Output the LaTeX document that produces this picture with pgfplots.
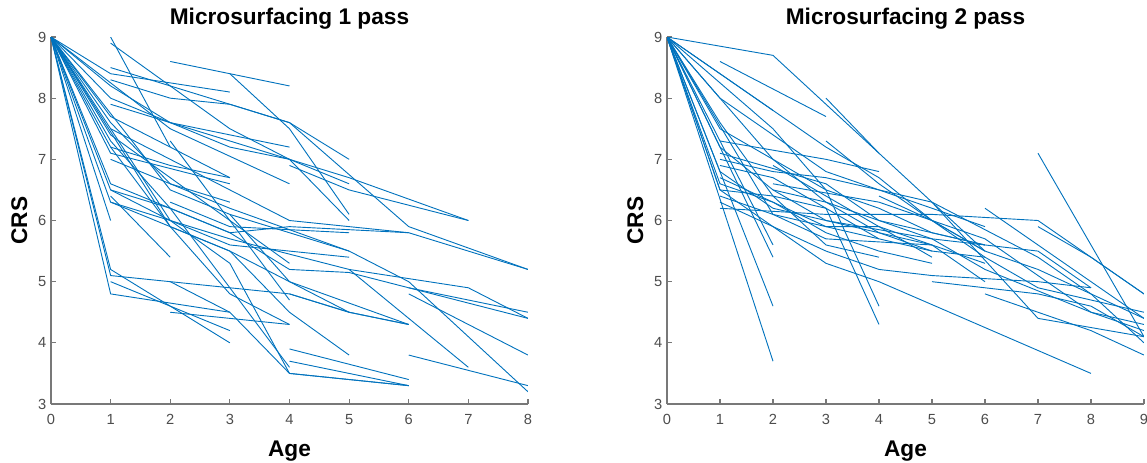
\documentclass[border=0pt]{standalone}
\usepackage{pgfplots}
\pgfplotsset{compat=1.18}
\usepackage{fontspec}
\setmainfont{Liberation Sans}
\definecolor{mblue}{rgb}{0,0.447,0.741}
\definecolor{axgray}{rgb}{0.47,0.47,0.47}
\definecolor{labgray}{rgb}{0.3,0.3,0.3}
\tikzset{ln/.style={mblue, line width=0.68pt, line join=round}}
\newcommand{\Ln}[1]{\addplot[ln] coordinates {#1};}
\pgfplotsset{
 mstyle/.style={
  scale only axis, width=357.75pt, height=275.25pt,
  ymin=3, ymax=9, ytick={3,...,9},
  axis x line*=bottom, axis y line*=left,
  axis line style={draw=axgray, line width=1.1pt},
  x axis line style={-}, y axis line style={-},
  tick align=inside, major tick length=3.5pt,
  every tick/.style={draw=axgray, line width=0.8pt},
  tick label style={font=\fontsize{11}{13}\selectfont, text=labgray},
  xticklabel style={yshift=-4pt},
  /pgf/number format/assume math mode=true,
  title style={at={(axis description cs:0.5,1.0136)}, anchor=base, font=\bfseries\fontsize{17}{20}\selectfont},
  xlabel style={at={(axis description cs:0.5,-0.1444)}, anchor=base, font=\bfseries\fontsize{17}{20}\selectfont},
  every axis y label/.style={at={(axis description cs:-0.0503,0.5)}, rotate=90, anchor=base, font=\bfseries\fontsize{17}{20}\selectfont},
  clip=true,
 }
}
\begin{document}
\begin{tikzpicture}
\begin{axis}[mstyle, at={(38.25pt,43.5pt)}, anchor=south west,
  xmin=0, xmax=8, xtick={0,...,8},
  title={Microsurfacing 1 pass}, xlabel={Age}, ylabel={CRS}]
\Ln{(0,9) (1,4.8) (3,4.5)}
\Ln{(0,9) (1,5.1) (2,5.0) (3,4.9) (4,4.8) (5,4.5)}
\Ln{(0,9) (1,5.2) (3,4.0)}
\Ln{(0,9) (1,6.0)}
\Ln{(0,9) (1,6.6) (3,5.8) (4,5.9) (6,5.8) (8,5.2)}
\Ln{(0,9) (1,6.3) (3,5.7) (5,5.2) (7,4.9) (8,4.4)}
\Ln{(0,9) (2,6.5) (3,6.1) (5,5.5)}
\Ln{(0,9) (1,7.1) (3,6.6)}
\Ln{(0,9) (1,7.7) (3,6.7)}
\Ln{(0,9) (2,6.0) (3,5.3) (4,3.5) (6,3.3)}
\Ln{(0,9) (1,8.0) (3,7.2) (4,7.0) (5,6.6)}
\Ln{(0,9) (1,8.4) (3,8.1)}
\Ln{(0,9) (2,7.5) (4,6.6)}
\Ln{(0,9) (1,7.3) (2,6.2) (4,3.6)}
\Ln{(0,9) (2,5.9) (3,5.5) (4,4.5) (5,3.8)}
\Ln{(1,9.0) (2,7.2)}
\Ln{(1,8.9) (3,7.5) (4,7.0) (5,6.0)}
\Ln{(1,8.5) (4,7.6) (6,5.9) (8,5.2)}
\Ln{(2,8.6) (3,8.4) (4,8.2)}
\Ln{(3,8.4) (4,7.5) (5,6.1)}
\Ln{(1,7.9) (4,7.0) (5,6.7) (7,6.0)}
\Ln{(1,7.5) (3,6.5) (4,6.0) (6,5.8)}
\Ln{(1,7.0) (3,6.2) (5,5.5) (6,5.0) (8,3.2)}
\Ln{(1,6.5) (2,6.2) (3,5.8) (4,5.2) (5,5.15) (8,4.4)}
\Ln{(1,6.3) (3,5.5) (4,5.0) (6,4.3)}
\Ln{(2,6.3) (3,5.9) (5,5.8)}
\Ln{(2,7.3) (4,4.7)}
\Ln{(4,4.8) (5,4.5) (6,4.3)}
\Ln{(4,3.9) (6,3.4)}
\Ln{(4,3.7) (6,3.3)}
\Ln{(6,4.9) (8,4.5)}
\Ln{(6,4.8) (8,3.8)}
\Ln{(6,3.8) (8,3.3)}
\Ln{(5,5.2) (7,3.6)}
\Ln{(4,6.9) (5,6.5) (7,6.0)}
\Ln{(3,6.1) (4,5.0) (5,4.5) (6,4.3)}
\Ln{(0,9) (1,7.6) (2,6.6) (3,6.3)}
\Ln{(0,9) (1,8.2) (2,7.6) (3,7.4) (4,7.2)}
\Ln{(0,9) (1,7.2) (2,5.9) (3,4.8) (4,4.3)}
\Ln{(2,4.5) (3,4.4) (4,4.3)}
\Ln{(1,6.4) (2,5.4)}
\Ln{(1,8.3) (2,8.0) (3,7.9) (4,7.6) (5,7.0)}
\Ln{(1,5.0) (3,4.2)}
\Ln{(2,5.0) (3,4.5) (4,3.5) (6,3.3)}
\Ln{(0,9) (1,6.5) (2,6.0) (3,5.6) (4,5.5) (5,5.4)}
\Ln{(1,7.2) (2,6.9) (3,6.7)}
\Ln{(0,9) (1,7.4) (2,6.7) (3,6.0) (4,5.3)}
\end{axis}
\begin{axis}[mstyle, at={(500.25pt,43.5pt)}, anchor=south west,
  xmin=0, xmax=9, xtick={0,...,9},
  title={Microsurfacing 2 pass}, xlabel={Age}, ylabel={CRS}]
\Ln{(0,9) (2,8.7) (5,6.3) (7,4.4) (9,4.1)}
\Ln{(1,8.6) (3,7.7)}
\Ln{(0,9) (2,7.8)}
\Ln{(3,8.0) (4,7.1)}
\Ln{(0,9) (2,3.7)}
\Ln{(0,9) (2,4.6)}
\Ln{(0,9) (2,5.4)}
\Ln{(0,9) (2,5.6)}
\Ln{(0,9) (1,6.5) (2,5.9) (3,5.3) (4,5.0) (8,3.5)}
\Ln{(1,7.3) (3,7.0) (4,6.8)}
\Ln{(1,7.1) (3,6.6)}
\Ln{(1,7.0) (2,6.8) (3,6.7) (5,6.3) (6,5.5)}
\Ln{(1,6.2) (3,6.1) (4,6.1) (5,6.1) (7,6.0) (9,4.8)}
\Ln{(0,9) (1,6.8) (2,6.2) (3,6.0) (4,5.8) (5,5.5) (6,5.4)}
\Ln{(0,9) (1,6.6) (2,6.3) (3,5.9) (4,5.9) (5,5.6) (6,5.3)}
\Ln{(0,9) (1,6.5) (2,6.4) (3,6.2) (4,4.3)}
\Ln{(0,9) (2,7.5) (3,6.5) (4,4.6)}
\Ln{(0,9) (2,7.0) (3,6.3) (4,5.8) (5,5.6)}
\Ln{(0,9) (3,7.2) (4,6.7) (5,6.0) (6,5.5)}
\Ln{(3,7.3) (4,6.6) (5,6.0) (6,5.4) (7,4.9) (9,4.5)}
\Ln{(4,5.2) (5,5.1) (7,5.0) (8,4.9)}
\Ln{(6,6.2) (7,5.6) (9,4.4)}
\Ln{(7,7.1) (9,4.1)}
\Ln{(7,5.9) (8,5.4) (9,4.8)}
\Ln{(5,6.3) (7,5.4) (8,4.8) (9,4.0)}
\Ln{(6,5.2) (8,4.5) (9,4.2)}
\Ln{(6,4.8) (8,4.2) (9,3.8)}
\Ln{(2,6.9) (5,5.4)}
\Ln{(1,6.7) (2,6.3) (3,5.8) (4,5.5) (5,5.3)}
\Ln{(0,9) (1,7.5) (2,7.0) (3,6.5) (4,6.2) (5,5.8) (6,5.6) (7,5.5) (8,4.9)}
\Ln{(1,6.4) (2,6.1) (3,5.7) (5,5.6) (6,5.0)}
\Ln{(5,5.0) (7,4.8) (8,4.6) (9,4.1)}
\Ln{(2,6.6) (4,6.3) (6,5.7) (8,4.5) (9,4.3)}
\Ln{(0,9) (1,7.2) (2,6.5) (3,6.0) (5,5.7) (6,5.2)}
\Ln{(4,6.4) (5,6.0) (6,5.5) (7,5.2) (9,4.4)}
\Ln{(0,9) (1,8.0) (2,7.4) (3,6.8) (4,6.5) (5,6.2) (6,5.9)}
\Ln{(3,6.6) (4,6.0) (6,5.6)}
\Ln{(1,6.3) (3,5.5) (4,5.2)}
\Ln{(0,9) (1,7.6) (2,6.4) (3,5.6) (4,5.4)}
\Ln{(0,9) (2,6.1) (3,5.9) (5,5.5)}
\Ln{(1,6.9) (2,6.7) (3,6.2) (4,5.7)}
\Ln{(2,6.5) (3,6.3) (4,6.0) (5,5.7) (6,5.6)}
\end{axis}
\pgfresetboundingbox
\path[use as bounding box] (0,0) rectangle (860.25pt,346.5pt);
\end{tikzpicture}
\end{document}
